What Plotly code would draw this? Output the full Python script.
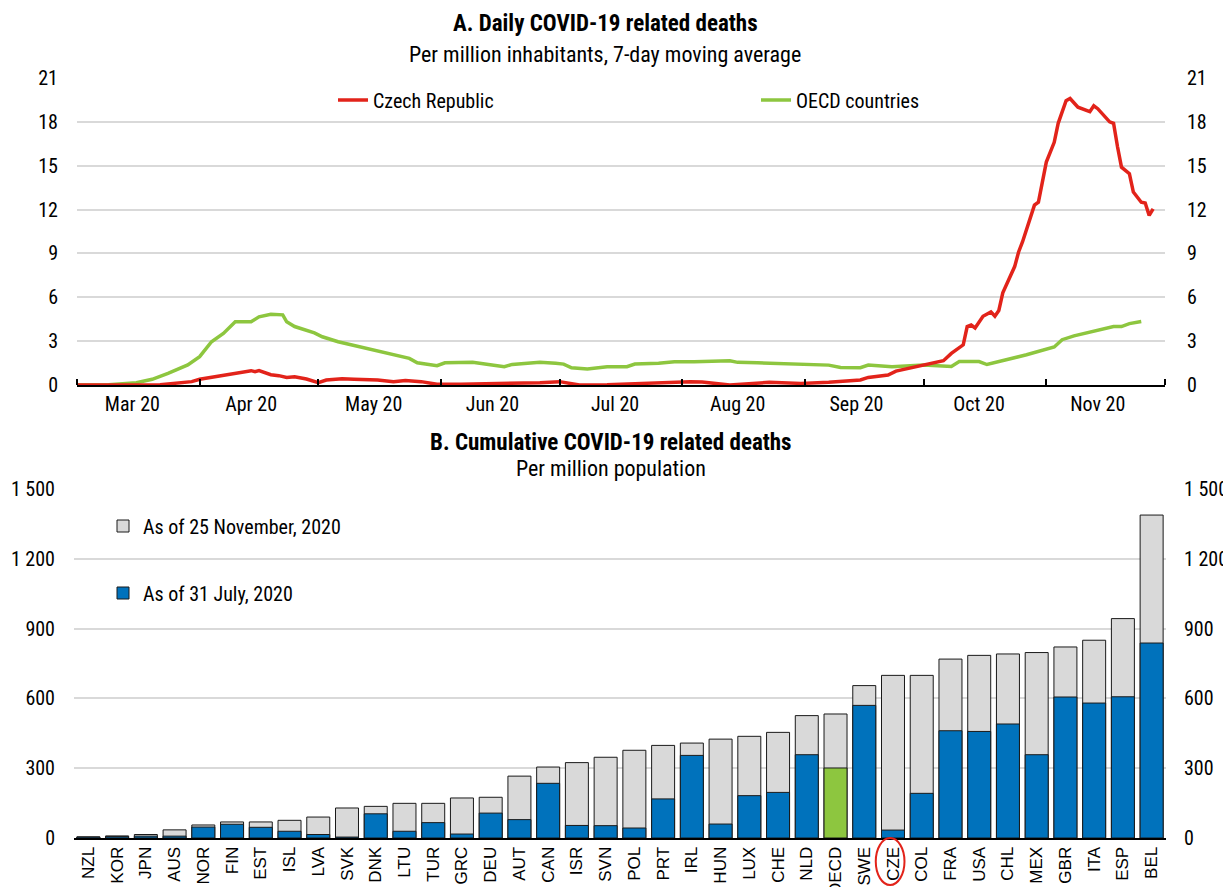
import plotly.graph_objects as go

# Page is shown with an 8 px body margin, so the figure is drawn 8 px smaller and
# every target page-pixel position is shifted by that offset.
PAGE_W, PAGE_H = 1231, 887
OFF = 8
W, H = PAGE_W - OFF, PAGE_H - OFF
NARROW = "Liberation Sans Narrow, Arial Narrow, Roboto Condensed, sans-serif"
REGULAR = "Liberation Sans, Arial, sans-serif"

# ---------------- Panel A data (7-day moving average, per million) ----------------
cze_dates = ["2020-03-01", "2020-03-11", "2020-03-22", "2020-03-30", "2020-04-01", "2020-04-06",
             "2020-04-10", "2020-04-14", "2020-04-15", "2020-04-16", "2020-04-19", "2020-04-21",
             "2020-04-23", "2020-04-25", "2020-04-28", "2020-05-01", "2020-05-03", "2020-05-07",
             "2020-05-10", "2020-05-16", "2020-05-20", "2020-05-23", "2020-05-27", "2020-05-31",
             "2020-06-06", "2020-06-09", "2020-06-18", "2020-06-26", "2020-07-01", "2020-07-06",
             "2020-07-13", "2020-07-21", "2020-07-28", "2020-08-03", "2020-08-06", "2020-08-13",
             "2020-08-23", "2020-08-31", "2020-09-07", "2020-09-12", "2020-09-15", "2020-09-17",
             "2020-09-22", "2020-09-24", "2020-09-29", "2020-10-04", "2020-10-06", "2020-10-08",
             "2020-10-11", "2020-10-12", "2020-10-13", "2020-10-14", "2020-10-16", "2020-10-18",
             "2020-10-19", "2020-10-20", "2020-10-21", "2020-10-24", "2020-10-25", "2020-10-26",
             "2020-10-29", "2020-10-30", "2020-11-01", "2020-11-03", "2020-11-04", "2020-11-06",
             "2020-11-07", "2020-11-09", "2020-11-10", "2020-11-12", "2020-11-13", "2020-11-14",
             "2020-11-17", "2020-11-18", "2020-11-19", "2020-11-20", "2020-11-22", "2020-11-23",
             "2020-11-25", "2020-11-26", "2020-11-27", "2020-11-28"]
cze_values = [0.0, 0.0, 0.02, 0.23, 0.39, 0.61,
              0.80, 0.98, 0.91, 0.98, 0.70, 0.64,
              0.52, 0.57, 0.41, 0.16, 0.34, 0.43,
              0.39, 0.34, 0.23, 0.30, 0.23, 0.05,
              0.05, 0.07, 0.07, 0.16, 0.23, 0.0,
              0.02, 0.11, 0.18, 0.23, 0.20, 0.0,
              0.18, 0.11, 0.18, 0.30, 0.34, 0.52,
              0.68, 0.95, 1.25, 1.55, 1.66, 2.16,
              2.75, 4.0, 4.1, 3.9, 4.7, 5.0,
              4.7, 5.1, 6.3, 8.1, 9.1, 9.8,
              12.3, 12.5, 15.25, 16.6, 17.9, 19.45,
              19.6, 19.0, 18.9, 18.7, 19.1, 18.9,
              18.0, 17.9, 16.3, 14.9, 14.45, 13.2,
              12.5, 12.45, 11.6, 12.05]

oecd_dates = ["2020-03-01", "2020-03-09", "2020-03-16", "2020-03-20", "2020-03-24", "2020-03-29",
              "2020-04-01", "2020-04-04", "2020-04-07", "2020-04-10", "2020-04-14", "2020-04-16",
              "2020-04-19", "2020-04-22", "2020-04-23", "2020-04-25", "2020-04-30", "2020-05-02",
              "2020-05-06", "2020-05-11", "2020-05-16", "2020-05-20", "2020-05-24", "2020-05-26",
              "2020-05-31", "2020-06-02", "2020-06-06", "2020-06-09", "2020-06-13", "2020-06-17",
              "2020-06-19", "2020-06-26", "2020-06-30", "2020-07-02", "2020-07-04", "2020-07-08",
              "2020-07-13", "2020-07-18", "2020-07-20", "2020-07-26", "2020-07-30", "2020-08-04",
              "2020-08-13", "2020-08-15", "2020-08-20", "2020-08-28", "2020-09-07", "2020-09-10",
              "2020-09-15", "2020-09-17", "2020-09-23", "2020-10-01", "2020-10-08", "2020-10-10",
              "2020-10-15", "2020-10-17", "2020-10-20", "2020-10-27", "2020-11-03", "2020-11-05",
              "2020-11-08", "2020-11-11", "2020-11-13", "2020-11-18", "2020-11-20", "2020-11-22",
              "2020-11-25"]
oecd_values = [0.0, 0.02, 0.16, 0.39, 0.80, 1.37,
               1.94, 2.96, 3.53, 4.32, 4.32, 4.66,
               4.84, 4.80, 4.32, 4.0, 3.57, 3.30,
               2.96, 2.66, 2.34, 2.11, 1.82, 1.52,
               1.32, 1.52, 1.55, 1.55, 1.41, 1.25,
               1.41, 1.55, 1.48, 1.43, 1.18, 1.09,
               1.25, 1.25, 1.43, 1.48, 1.59, 1.59,
               1.66, 1.55, 1.52, 1.43, 1.36, 1.20,
               1.18, 1.36, 1.25, 1.36, 1.27, 1.60,
               1.60, 1.40, 1.60, 2.07, 2.60, 3.10,
               3.36, 3.55, 3.66, 4.0, 4.0, 4.2,
               4.34]

# month label positions (labels sit a little before mid-month, ticks at month starts)
month_label_dates = ["2020-03-15", "2020-04-14", "2020-05-15", "2020-06-14", "2020-07-15",
                     "2020-08-15", "2020-09-14", "2020-10-15", "2020-11-14"]
month_labels = ["Mar 20", "Apr 20", "May 20", "Jun 20", "Jul 20",
                "Aug 20", "Sep 20", "Oct 20", "Nov 20"]

# ---------------- Panel B data (cumulative deaths per million) ----------------
countries = ["NZL", "KOR", "JPN", "AUS", "NOR", "FIN", "EST", "ISL", "LVA", "SVK",
             "DNK", "LTU", "TUR", "GRC", "DEU", "AUT", "CAN", "ISR", "SVN", "POL",
             "PRT", "IRL", "HUN", "LUX", "CHE", "NLD", "OECD", "SWE", "CZE", "COL",
             "FRA", "USA", "CHL", "MEX", "GBR", "ITA", "ESP", "BEL"]
deaths_nov25 = [5, 9, 15, 35, 56, 69, 69, 76, 90, 129,
                136, 149, 149, 172, 175, 266, 305, 324, 347, 377,
                398, 408, 425, 437, 454, 526, 533, 655, 699, 699,
                769, 785, 791, 797, 821, 850, 943, 1388]
deaths_jul31 = [4, 6, 8, 8, 47, 59, 46, 29, 15, 4,
                104, 29, 66, 17, 107, 79, 235, 54, 53, 43,
                168, 355, 60, 182, 196, 358, 301, 570, 34, 192,
                461, 458, 490, 358, 606, 580, 607, 838]

RED = "#E2231A"
LGREEN = "#8DC63F"
BLUE = "#0072BC"
GREY = "#D9D9D9"
GRID = "#D9D9D9"

blue_colors = [LGREEN if c == "OECD" else BLUE for c in countries]

fig = go.Figure()

fig.add_trace(go.Scatter(x=oecd_dates, y=oecd_values, mode="lines", name="OECD countries",
                         line=dict(color=LGREEN, width=3.5), xaxis="x", yaxis="y",
                         legend="legend2"))
fig.add_trace(go.Scatter(x=cze_dates, y=cze_values, mode="lines", name="Czech Republic",
                         line=dict(color=RED, width=3.5), xaxis="x", yaxis="y3",
                         legend="legend"))
fig.add_trace(go.Bar(x=countries, y=deaths_nov25, name="As of 25 November, 2020",
                     marker=dict(color=GREY, line=dict(color="#1a1a1a", width=1)),
                     xaxis="x2", yaxis="y2", legend="legend3"))
fig.add_trace(go.Bar(x=countries, y=deaths_jul31, name="As of 31 July, 2020",
                     marker=dict(color=blue_colors, line=dict(color="#1a1a1a", width=1)),
                     xaxis="x2", yaxis="y4", legend="legend4"))

top_ticks = [0, 3, 6, 9, 12, 15, 18, 21]
bot_ticks = [0, 300, 600, 900, 1200, 1500]
bot_text = ["0", "300", "600", "900", "1 200", "1 500"]


def py(pix):
    return 1 - (pix - OFF) / H


def px(pix):
    return (pix - OFF) / W


yfont = dict(family=NARROW, size=20, color="black")
legfont = dict(family=NARROW, size=20, color="black")

fig.update_layout(
    template="none",
    width=W, height=H,
    margin=dict(l=0, r=0, t=0, b=0, pad=0, autoexpand=False),
    paper_bgcolor="white", plot_bgcolor="white",
    barmode="overlay", bargap=0.2,
    showlegend=True,
    xaxis=dict(domain=[px(77), px(1165)], anchor="y", type="date", automargin=False,
               range=["2020-03-01", "2020-12-01"],
               tickmode="array", tickvals=month_label_dates, ticktext=month_labels,
               ticks="",
               minor=dict(ticks="inside", ticklen=6, tickwidth=1.5, tickcolor="black",
                          dtick="M1", tick0="2020-03-01", showgrid=False),
               showline=True, linecolor="black", linewidth=2, showgrid=False,
               zeroline=False, tickfont=yfont),
    yaxis=dict(domain=[py(385), py(78)], anchor="x", range=[0, 21], tickvals=top_ticks,
               automargin=False, showline=False,
               showgrid=True, gridcolor=GRID, gridwidth=2, zeroline=False,
               ticks="", ticklabelstandoff=18, tickfont=yfont),
    yaxis3=dict(overlaying="y", side="right", anchor="x", range=[0, 21], tickvals=top_ticks,
                automargin=False, showline=False,
                showgrid=False, zeroline=False, ticks="", ticklabelstandoff=21,
                tickfont=yfont),
    xaxis2=dict(domain=[px(74), px(1166)], anchor="y2", type="category", automargin=False,
                categoryorder="array", categoryarray=countries, tickangle=-90,
                showline=True, linecolor="black", linewidth=2, showgrid=False, ticks="",
                zeroline=False,
                tickfont=dict(family=REGULAR, size=17, color="black")),
    yaxis2=dict(domain=[py(838), py(489)], anchor="x2", range=[0, 1500], tickvals=bot_ticks,
                automargin=False, showline=False,
                ticktext=bot_text, showgrid=True, gridcolor=GRID, gridwidth=2,
                zeroline=False, ticks="", ticklabelstandoff=18, tickfont=yfont),
    yaxis4=dict(overlaying="y2", side="right", anchor="x2", range=[0, 1500],
                automargin=False, showline=False,
                tickvals=bot_ticks, ticktext=bot_text, showgrid=False, zeroline=False,
                ticks="", ticklabelstandoff=17, tickfont=yfont),
    legend=dict(x=px(333), y=py(100), xanchor="left", yanchor="middle",
                bgcolor="rgba(0,0,0,0)", borderwidth=0, font=legfont),
    legend2=dict(x=px(756), y=py(100), xanchor="left", yanchor="middle",
                 bgcolor="rgba(0,0,0,0)", borderwidth=0, font=legfont),
    legend3=dict(x=px(103), y=py(526), xanchor="left", yanchor="middle",
                 bgcolor="rgba(0,0,0,0)", borderwidth=0, font=legfont),
    legend4=dict(x=px(103), y=py(593), xanchor="left", yanchor="middle",
                 bgcolor="rgba(0,0,0,0)", borderwidth=0, font=legfont),
    annotations=[
        dict(text="<b>A. Daily COVID-19 related deaths</b>", x=px(605), y=py(23),
             xref="paper", yref="paper", showarrow=False, xanchor="center", yanchor="middle",
             font=dict(family=NARROW, size=23, color="black")),
        dict(text="Per million inhabitants, 7-day moving average", x=px(605), y=py(54),
             xref="paper", yref="paper", showarrow=False, xanchor="center", yanchor="middle",
             font=dict(family=NARROW, size=22, color="black")),
        dict(text="<b>B. Cumulative COVID-19 related deaths</b>", x=px(611), y=py(442),
             xref="paper", yref="paper", showarrow=False, xanchor="center", yanchor="middle",
             font=dict(family=NARROW, size=23, color="black")),
        dict(text="Per million population", x=px(611), y=py(468),
             xref="paper", yref="paper", showarrow=False, xanchor="center", yanchor="middle",
             font=dict(family=NARROW, size=22, color="black")),
    ],
    shapes=[
        dict(type="circle", xref="x2", yref="paper",
             x0=countries.index("CZE") - 0.6, x1=countries.index("CZE") + 0.4,
             y0=py(885), y1=py(838), line=dict(color=RED, width=2), fillcolor="rgba(0,0,0,0)"),
    ],
)

fig.write_html("out.html")
